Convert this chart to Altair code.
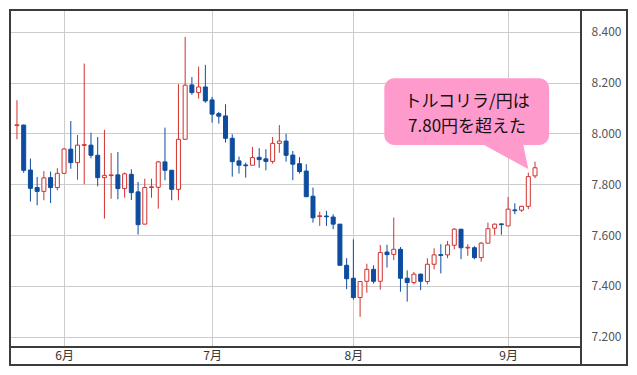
import altair as alt
import pandas as pd
import numpy as np

# Daily TRY/JPY candles, 2022-05-23 .. 2022-09-07 (business days)
OPEN = [8.031, 8.033, 7.856, 7.787, 7.772, 7.826, 7.787,
        7.843, 7.938, 7.885, 7.953, 7.954, 7.914, 7.826, 7.834, 7.837, 7.783, 7.839,
        7.770, 7.643, 7.787, 7.788, 7.888, 7.855, 7.780, 7.977, 8.191, 8.161, 8.183,
        8.132, 8.078, 8.069, 7.981, 7.892, 7.876, 7.875, 7.906, 7.900, 7.890, 7.961,
        7.970, 7.915, 7.881, 7.852, 7.753, 7.673, 7.675, 7.671, 7.643, 7.481,
        7.430, 7.354, 7.418, 7.465, 7.418, 7.533, 7.524, 7.544, 7.430, 7.413, 7.446,
        7.417, 7.485, 7.523, 7.522, 7.560, 7.623, 7.549, 7.550, 7.511, 7.568, 7.627,
        7.644,
        7.636, 7.699, 7.698, 7.713, 7.833]
HIGH = [8.131, 8.035, 7.901, 7.829, 7.852, 7.850, 7.863,
        7.942, 8.049, 7.994, 8.275, 8.003, 7.986, 8.014, 7.923, 7.927, 7.846, 7.859,
        7.809, 7.822, 7.822, 7.892, 8.023, 7.857, 8.194, 8.380, 8.222, 8.263, 8.270,
        8.144, 8.085, 8.115, 7.997, 7.909, 7.885, 7.947, 7.942, 7.938, 7.986, 8.033,
        7.999, 7.931, 7.907, 7.879, 7.787, 7.692, 7.695, 7.682, 7.643, 7.509,
        7.583, 7.419, 7.487, 7.481, 7.561, 7.562, 7.669, 7.553, 7.461, 7.455, 7.449,
        7.509, 7.548, 7.564, 7.577, 7.627, 7.623, 7.564, 7.556, 7.573, 7.649, 7.645,
        7.645,
        7.750, 7.725, 7.715, 7.846, 7.889]
LOW = [7.977, 7.845, 7.732, 7.717, 7.737, 7.726, 7.776,
       7.843, 7.861, 7.818, 7.800, 7.902, 7.792, 7.665, 7.743, 7.741, 7.747, 7.738,
       7.602, 7.643, 7.747, 7.704, 7.816, 7.737, 7.737, 7.977, 8.152, 8.137, 8.121,
       8.043, 8.039, 7.964, 7.830, 7.842, 7.826, 7.875, 7.865, 7.855, 7.881, 7.924,
       7.889, 7.816, 7.842, 7.751, 7.649, 7.636, 7.636, 7.623, 7.481, 7.387,
       7.346, 7.278, 7.373, 7.409, 7.385, 7.472, 7.501, 7.377, 7.338, 7.406, 7.383,
       7.406, 7.465, 7.449, 7.509, 7.544, 7.505, 7.518, 7.505, 7.495, 7.568, 7.600,
       7.601,
       7.636, 7.682, 7.691, 7.702, 7.824]
CLOSE = [8.034, 7.855, 7.784, 7.772, 7.825, 7.787, 7.843,
         7.939, 7.885, 7.954, 7.956, 7.914, 7.826, 7.835, 7.837, 7.783, 7.841, 7.767,
         7.641, 7.787, 7.790, 7.888, 7.855, 7.780, 7.977, 8.190, 8.161, 8.183, 8.128,
         8.076, 8.068, 7.981, 7.889, 7.875, 7.873, 7.905, 7.897, 7.890, 7.961, 7.970,
         7.914, 7.879, 7.850, 7.751, 7.668, 7.676, 7.672, 7.643, 7.481, 7.428,
         7.354, 7.417, 7.465, 7.418, 7.531, 7.523, 7.544, 7.430, 7.413, 7.446, 7.418,
         7.485, 7.522, 7.520, 7.561, 7.623, 7.550, 7.552, 7.511, 7.568, 7.625, 7.643,
         7.641,
         7.702, 7.696, 7.713, 7.830, 7.865]

MONTH_TICKS = [7, 29, 50, 73]          # index of first trading day of each month
MONTH_LABELS = ["6月", "7月", "8月", "9月"]
Y_TICKS = [7.2, 7.4, 7.6, 7.8, 8.0, 8.2, 8.4]

CALLOUT_LINES = ["トルコリラ/円は", "7.80円を超えた"]

RED = "#d0312d"
BLUE = "#0d4c9e"
PINK = "#ff9acc"
FRAME = "#3c3c3c"
GRID = "#cccccc"
FONT = "Noto Sans CJK JP"

W, H = 572, 338

df = pd.DataFrame({"i": np.arange(len(OPEN)), "open": OPEN, "high": HIGH,
                   "low": LOW, "close": CLOSE})
df["dir"] = np.where(df["close"] >= df["open"], "up", "down")

x_scale = alt.Scale(domain=[-0.44, 83.09], nice=False, zero=False)
y_scale = alt.Scale(domain=[8.49 - H / 254.0, 8.49], nice=False, zero=False)

label_expr = " : ".join(
    [f"datum.value == {t} ? '{l}'" for t, l in zip(MONTH_TICKS, MONTH_LABELS)]
) + " : ''"

x_axis = alt.Axis(values=MONTH_TICKS, labelExpr=label_expr, grid=True,
                  gridColor=GRID, gridWidth=1, domain=False, ticks=False,
                  labelPadding=3, labelFont=FONT, labelFontSize=12,
                  labelColor="#333333", labelFlush=False, title=None)
y_axis = alt.Axis(orient="right", values=Y_TICKS, format=".3f", grid=True,
                  gridColor=GRID, gridWidth=1, domain=False, ticks=False,
                  labelPadding=10, labelFont=FONT, labelFontSize=12,
                  labelColor="#555555", title=None)


def X(field):
    return alt.X(field, scale=x_scale, axis=x_axis)


def Y(field):
    return alt.Y(field, scale=y_scale, axis=y_axis)


base = alt.Chart(df)

wick = base.mark_rule(strokeWidth=1).encode(
    x=X("i:Q"),
    y=Y("low:Q"),
    y2="high:Q",
    color=alt.Color("dir:N", scale=alt.Scale(domain=["up", "down"], range=[RED, BLUE]),
                    legend=None),
)

body = base.mark_bar(size=4, strokeWidth=1).encode(
    x=X("i:Q"),
    y=Y("open:Q"),
    y2="close:Q",
    fill=alt.Fill("dir:N", scale=alt.Scale(domain=["up", "down"], range=["#ffffff", BLUE]),
                  legend=None),
    stroke=alt.Stroke("dir:N", scale=alt.Scale(domain=["up", "down"], range=[RED, BLUE]),
                      legend=None),
)

# Callout bubble (data coordinates: candle index, price)
bubble_df = pd.DataFrame({"x0": [54.6], "x1": [79.1], "y0": [8.217], "y1": [7.955]})
bubble = alt.Chart(bubble_df).mark_rect(cornerRadius=10, color=PINK).encode(
    x=X("x0:Q"), x2="x1:Q",
    y=Y("y0:Q"), y2="y1:Q",
)
pointer_df = pd.DataFrame({"x": [68.9, 75.2, 76.0],
                           "y": [7.962, 7.962, 7.860],
                           "y2": [7.962, 7.871, 7.860]})
pointer = alt.Chart(pointer_df).mark_area(color=PINK, orient="vertical").encode(
    x=X("x:Q"),
    y=Y("y:Q"), y2="y2:Q",
)
text_df = pd.DataFrame({"x": [66.9, 66.9], "y": [8.124, 8.026], "t": CALLOUT_LINES})
callout_text = alt.Chart(text_df).mark_text(
    font=FONT, fontSize=17, color="#111111", align="center", baseline="middle"
).encode(
    x=X("x:Q"),
    y=Y("y:Q"),
    text="t:N",
)

# Frame
one = pd.DataFrame({"a": [0]})
frame = alt.Chart(one).mark_rect(fill="transparent", stroke=FRAME, strokeWidth=2).encode(
    x=alt.value(1), x2=alt.value(618), y=alt.value(1), y2=alt.value(356)
)
sep_v = alt.Chart(one).mark_rule(color=FRAME, strokeWidth=2).encode(
    x=alt.value(W), y=alt.value(0), y2=alt.value(356)
)
sep_h = alt.Chart(one).mark_rule(color=FRAME, strokeWidth=2).encode(
    x=alt.value(0), x2=alt.value(W), y=alt.value(H)
)

chart = alt.layer(wick, body, bubble, pointer, callout_text, frame, sep_v, sep_h).properties(
    width=W, height=H, padding=0, background="white"
).configure_view(strokeWidth=0)

chart.save("out.html", embed_options={"renderer": "svg", "actions": False})
